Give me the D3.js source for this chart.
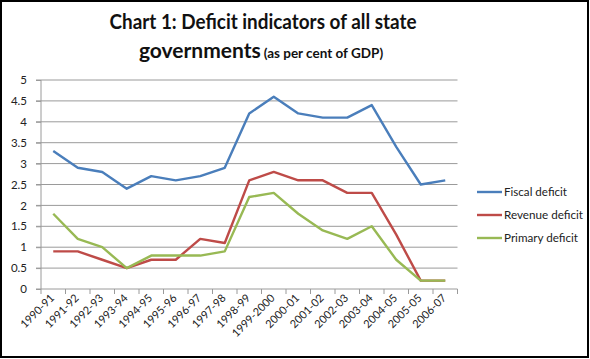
<!DOCTYPE html>
<html>
<head>
<meta charset="utf-8">
<script src="https://cdn.jsdelivr.net/npm/d3@7"></script>
<style>
  html, body { margin: 0; padding: 0; background: #fff; }
  svg { display: block; }
  text { font-family: Lato, "Open Sans", sans-serif; }
</style>
</head>
<body>
<svg id="chart" width="590" height="359"></svg>
<script>
const categories = ["1990-91","1991-92","1992-93","1993-94","1994-95","1995-96","1996-97","1997-98","1998-99","1999-2000","2000-01","2001-02","2002-03","2003-04","2004-05","2005-05","2006-07"];
const fiscalDeficit  = [3.3, 2.9, 2.8, 2.4, 2.7, 2.6, 2.7, 2.9, 4.2, 4.6, 4.2, 4.1, 4.1, 4.4, 3.4, 2.5, 2.6];
const revenueDeficit = [0.9, 0.9, 0.7, 0.5, 0.7, 0.7, 1.2, 1.1, 2.6, 2.8, 2.6, 2.6, 2.3, 2.3, 1.3, 0.2, 0.2];
const primaryDeficit = [1.8, 1.2, 1.0, 0.5, 0.8, 0.8, 0.8, 0.9, 2.2, 2.3, 1.8, 1.4, 1.2, 1.5, 0.7, 0.2, 0.2];
const yTicks = [0, 0.5, 1, 1.5, 2, 2.5, 3, 3.5, 4, 4.5, 5];
const seriesNames = ["Fiscal deficit", "Revenue deficit", "Primary deficit"];
const seriesColors = ["#4a7ebb", "#be4b48", "#98b954"];
const seriesData = [fiscalDeficit, revenueDeficit, primaryDeficit];

(function () {
const svg = d3.select("#chart");
const W = 590, H = 359;

// frame
svg.append("rect").attr("x", 1).attr("y", 1).attr("width", W - 3).attr("height", H - 3)
  .attr("fill", "#fff").attr("stroke", "#000").attr("stroke-width", 2);

const pLeft = 41, pRight = 457.5, pTop = 80, pBottom = 289;
const x = d3.scaleBand().domain(categories).range([pLeft, pRight]);
const y = d3.scaleLinear().domain([0, 5]).range([pBottom, pTop]);
const cx = d => x(d) + x.bandwidth() / 2;

// gridlines
svg.append("g").selectAll("line").data(yTicks.filter(t => t > 0)).join("line")
  .attr("x1", pLeft - 5).attr("x2", pRight)
  .attr("y1", d => y(d)).attr("y2", d => y(d))
  .attr("stroke", "#9a9a9a").attr("stroke-width", 1);

// y axis
const yAxis = d3.axisLeft(y).tickValues(yTicks).tickSize(5).tickPadding(9)
  .tickFormat(d => String(d));
const gy = svg.append("g").attr("transform", `translate(${pLeft},0)`).call(yAxis);
gy.select(".domain").attr("stroke", "#9a9a9a").attr("d", `M-5,${pBottom}H0V${pTop}`);
gy.selectAll(".tick line").attr("stroke", "#9a9a9a");
gy.selectAll(".tick text").attr("font-size", 11.5).attr("fill", "#222").attr("font-family", "Lato, sans-serif");

// x axis
const xAxis = d3.axisBottom(x).tickSize(0).tickFormat(d => d);
const gx = svg.append("g").attr("transform", `translate(0,${pBottom})`).call(xAxis);
gx.select(".domain").attr("stroke", "#9a9a9a").attr("d", `M${pLeft},0H${pRight}`);
gx.selectAll(".tick text")
  .attr("font-size", 11).attr("fill", "#222").attr("font-family", "Lato, sans-serif")
  .attr("text-anchor", "end")
  .attr("transform", "translate(-1,7) rotate(-45)")
  .attr("dy", "0.35em").attr("y", 0).attr("x", 0);
const boundaries = categories.map(c => x(c)).concat([pRight]);
gx.append("g").selectAll("line").data(boundaries).join("line")
  .attr("x1", d => d).attr("x2", d => d).attr("y1", 0).attr("y2", 5)
  .attr("stroke", "#9a9a9a");

// lines
const line = d3.line().x((d, i) => cx(categories[i])).y(d => y(d));
seriesData.forEach((s, k) => {
  svg.append("path").datum(s).attr("d", line)
    .attr("fill", "none").attr("stroke", seriesColors[k]).attr("stroke-width", 2.4)
    .attr("stroke-linejoin", "round");
});

// legend
const lg = svg.append("g");
const legendWidths = [63, 79, 74];
seriesNames.forEach((n, k) => {
  const ly = 192 + k * 23;
  lg.append("line").attr("x1", 477).attr("x2", 502).attr("y1", ly).attr("y2", ly)
    .attr("stroke", seriesColors[k]).attr("stroke-width", 2.4);
  lg.append("text").attr("x", 504).attr("y", ly).attr("dy", "0.35em")
    .attr("font-size", 12).attr("fill", "#222")
    .attr("textLength", legendWidths[k]).attr("lengthAdjust", "spacingAndGlyphs")
    .text(n);
});

// title
svg.append("text").attr("x", 263).attr("y", 29).attr("text-anchor", "middle")
  .attr("font-size", 21).attr("font-weight", "bold").attr("fill", "#111")
  .attr("textLength", 307).attr("lengthAdjust", "spacingAndGlyphs")
  .text("Chart 1: Deficit indicators of all state");
const t2 = svg.append("text").attr("x", 261).attr("y", 58).attr("text-anchor", "middle")
  .attr("font-weight", "bold").attr("fill", "#111");
t2.append("tspan").attr("font-size", 21).text("governments");
t2.append("tspan").attr("font-size", 13.5).attr("dx", 3).text("(as per cent of GDP)");
})();
</script>
</body>
</html>
